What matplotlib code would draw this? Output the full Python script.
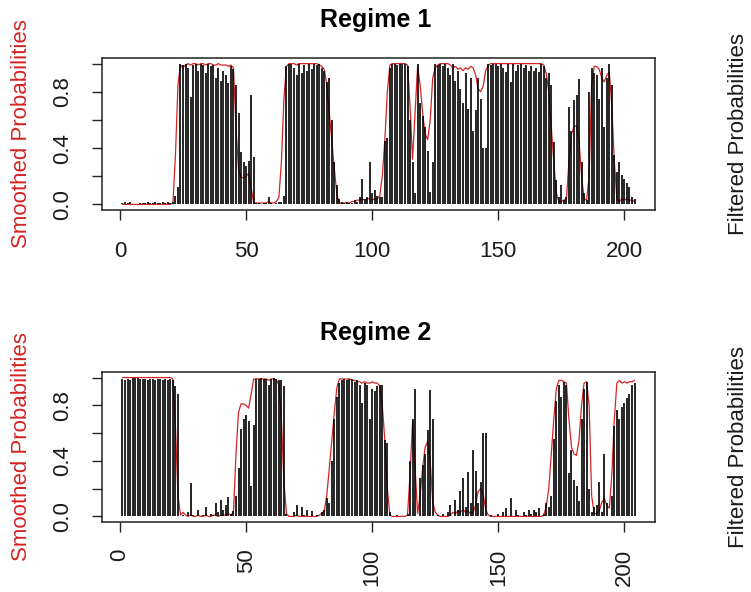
import matplotlib
matplotlib.use("Agg")
import matplotlib.pyplot as plt
import numpy as np

plt.rcParams['font.family'] = ['Liberation Sans', 'DejaVu Sans']

# time index
t = list(range(1, 205))

# Regime 1 filtered probabilities (bars)
filtered_r1 = [
    0.01, 0.02, 0.01, 0.02, 0.00, 0.00, 0.00, 0.01, 0.01, 0.01,
    0.02, 0.01, 0.01, 0.02, 0.01, 0.01, 0.02, 0.01, 0.02, 0.01, 0.02,
    0.06, 0.12,
    1.00, 0.99, 1.00, 0.97, 0.76, 0.99, 1.00, 0.95, 1.00, 0.99,
    0.93, 1.00, 0.98, 0.99, 0.90, 0.97, 0.88, 0.95, 0.92, 0.86, 0.98, 0.96,
    0.85, 0.65, 0.37, 0.30, 0.27, 0.31, 0.78, 0.34,
    0.01, 0.01, 0.00, 0.01, 0.01, 0.05, 0.01, 0.00, 0.01, 0.02,
    0.02, 0.06,
    0.98, 1.00, 1.00, 0.97, 0.92, 1.00, 0.93, 0.99, 0.95, 1.00, 0.96, 1.00, 0.99, 1.00, 0.97,
    0.95, 0.87, 0.90, 0.60, 0.30, 0.14, 0.04,
    0.02, 0.01, 0.02, 0.01, 0.01, 0.03, 0.02, 0.05, 0.18, 0.04, 0.05, 0.30, 0.08, 0.10, 0.06, 0.05,
    0.05, 0.45, 0.47, 0.97,
    1.00, 1.00, 0.99, 1.00, 1.00, 1.00, 0.98,
    0.60, 0.30, 0.08, 1.00, 0.72, 0.63, 0.55, 0.38, 0.09, 0.30,
    1.00, 0.99, 1.00, 0.98, 1.00, 0.97, 0.92, 1.00, 0.88, 0.95, 0.82, 0.72, 0.93, 0.68, 0.90,
    0.52, 0.67, 0.90, 0.75, 0.40, 0.40,
    1.00, 0.99, 1.00, 1.00, 0.98, 1.00, 0.97, 0.94, 1.00, 0.87, 1.00, 0.95, 0.99, 1.00, 0.97,
    0.99, 0.95, 0.98, 0.95, 0.97, 0.94, 1.00, 0.98, 0.90,
    0.93, 0.85, 0.44, 0.17, 0.05, 0.14, 0.03, 0.05, 0.69, 0.52, 0.74, 0.78, 0.89, 0.30, 0.08, 0.03,
    0.80, 0.97, 0.93, 0.92, 0.75, 0.97, 0.55, 0.90, 1.00, 0.85, 0.35, 0.23, 0.30, 0.21, 0.18,
    0.15, 0.12, 0.05, 0.04,
]

# Regime 1 smoothed probabilities (red line)
smoothed_r1 = [
    0.00, 0.00, 0.00, 0.00, 0.00, 0.00, 0.00, 0.00, 0.00, 0.00, 0.00, 0.00, 0.00, 0.00, 0.00,
    0.00, 0.00, 0.00, 0.00, 0.00, 0.01,
    0.35, 0.85,
    0.99, 0.97, 0.99, 1.00, 0.99, 1.00, 1.00, 0.99, 1.00, 1.00, 0.99, 1.00, 1.00, 0.99, 0.99,
    1.00, 0.99, 0.99, 0.99, 0.98, 0.99, 0.97,
    0.55, 0.25, 0.19, 0.19, 0.20, 0.22, 0.12, 0.01,
    0.01, 0.01, 0.01, 0.01, 0.01, 0.02, 0.01, 0.01, 0.02,
    0.05, 0.30, 0.75,
    0.98, 1.00, 1.00, 1.00, 0.99, 1.00, 1.00, 1.00, 1.00, 1.00, 1.00, 1.00, 1.00, 0.99, 0.98,
    0.96, 0.85, 0.65, 0.45, 0.25, 0.07,
    0.01, 0.01, 0.01, 0.01, 0.01, 0.02, 0.02, 0.03, 0.03, 0.04, 0.03, 0.04, 0.04, 0.03, 0.04, 0.04,
    0.06, 0.20, 0.45, 0.80, 0.99,
    1.00, 1.00, 1.00, 1.00, 1.00, 1.00, 0.99,
    0.70, 0.32, 0.65, 0.98, 0.85, 0.65, 0.50, 0.46, 0.60, 0.90,
    0.97, 0.99, 1.00, 1.00, 1.00, 1.00, 0.99, 0.97, 0.98, 0.96, 0.97, 0.95, 0.97, 0.96, 0.98,
    0.97, 0.92, 0.82, 0.80, 0.84, 0.95,
    0.99, 1.00, 1.00, 1.00, 1.00, 1.00, 1.00, 1.00, 1.00, 1.00, 1.00, 1.00, 1.00, 1.00, 1.00,
    1.00, 1.00, 1.00, 1.00, 1.00, 1.00, 1.00, 0.99, 0.93,
    0.80, 0.55, 0.30, 0.08, 0.02, 0.02, 0.03, 0.04, 0.30, 0.50, 0.55, 0.56, 0.45, 0.20, 0.04, 0.03,
    0.20, 0.85, 0.98, 0.98, 0.96, 0.90, 0.87, 0.92, 0.94, 0.70, 0.30, 0.04, 0.02, 0.04, 0.03,
    0.04, 0.03, 0.03, 0.02,
]

# Regime 2 filtered probabilities (bars)
filtered_r2 = [
    0.99, 0.98, 0.99, 0.98, 1.00, 1.00, 1.00, 0.99, 0.99, 0.99,
    0.98, 0.99, 0.99, 0.98, 0.99, 0.99, 0.98, 0.99, 0.98, 0.99, 0.98,
    0.94, 0.88,
    0.00, 0.01, 0.00, 0.03, 0.24, 0.01, 0.00, 0.05, 0.00, 0.01,
    0.07, 0.00, 0.02, 0.01, 0.10, 0.03, 0.12, 0.05, 0.08, 0.14, 0.02, 0.04,
    0.15, 0.35, 0.63, 0.70, 0.73, 0.69, 0.22, 0.66,
    0.99, 0.99, 1.00, 0.99, 0.99, 0.95, 0.99, 1.00, 0.99, 0.98,
    0.98, 0.94,
    0.02, 0.00, 0.00, 0.03, 0.08, 0.00, 0.07, 0.01, 0.05, 0.00, 0.04, 0.00, 0.01, 0.00, 0.03,
    0.05, 0.13, 0.10, 0.40, 0.70, 0.86, 0.96,
    0.98, 0.99, 0.98, 0.99, 0.99, 0.97, 0.98, 0.95, 0.82, 0.96, 0.95, 0.70, 0.92, 0.90, 0.94, 0.95,
    0.95, 0.55, 0.53, 0.03,
    0.00, 0.00, 0.01, 0.00, 0.00, 0.00, 0.02,
    0.40, 0.70, 0.92, 0.00, 0.28, 0.37, 0.45, 0.62, 0.91, 0.70,
    0.00, 0.01, 0.00, 0.02, 0.00, 0.03, 0.08, 0.00, 0.12, 0.05, 0.18, 0.28, 0.07, 0.32, 0.10,
    0.48, 0.33, 0.10, 0.25, 0.60, 0.60,
    0.00, 0.01, 0.00, 0.00, 0.02, 0.00, 0.03, 0.06, 0.00, 0.13, 0.00, 0.05, 0.01, 0.00, 0.03,
    0.01, 0.05, 0.02, 0.05, 0.03, 0.06, 0.00, 0.02, 0.10,
    0.07, 0.15, 0.56, 0.83, 0.95, 0.86, 0.97, 0.95, 0.31, 0.48, 0.26, 0.22, 0.11, 0.70, 0.92, 0.97,
    0.20, 0.03, 0.07, 0.08, 0.25, 0.03, 0.45, 0.10, 0.00, 0.15, 0.65, 0.77, 0.70, 0.79, 0.82,
    0.85, 0.88, 0.95, 0.96,
]

# Regime 2 smoothed probabilities (red line)
smoothed_r2 = [
    1.00, 1.00, 1.00, 1.00, 1.00, 1.00, 1.00, 1.00, 1.00, 1.00, 1.00, 1.00, 1.00, 1.00, 1.00,
    1.00, 1.00, 1.00, 1.00, 1.00, 0.99,
    0.65, 0.15,
    0.01, 0.03, 0.01, 0.00, 0.01, 0.00, 0.00, 0.01, 0.00, 0.00, 0.01, 0.00, 0.00, 0.01, 0.01,
    0.00, 0.01, 0.01, 0.01, 0.02, 0.01, 0.03,
    0.45, 0.75, 0.81, 0.81, 0.80, 0.78, 0.88, 0.99,
    0.99, 0.99, 0.99, 0.99, 0.99, 0.98, 0.99, 0.99, 0.98,
    0.95, 0.70, 0.25,
    0.02, 0.00, 0.00, 0.00, 0.01, 0.00, 0.00, 0.00, 0.00, 0.00, 0.00, 0.00, 0.00, 0.01, 0.02,
    0.04, 0.15, 0.35, 0.55, 0.75, 0.93,
    0.99, 0.99, 0.99, 0.99, 0.99, 0.98, 0.98, 0.97, 0.97, 0.96, 0.97, 0.96, 0.96, 0.97, 0.96, 0.96,
    0.94, 0.80, 0.55, 0.20, 0.01,
    0.00, 0.00, 0.00, 0.00, 0.00, 0.00, 0.01,
    0.30, 0.68, 0.35, 0.02, 0.15, 0.35, 0.50, 0.54, 0.40, 0.10,
    0.03, 0.01, 0.00, 0.00, 0.00, 0.00, 0.01, 0.03, 0.02, 0.04, 0.03, 0.05, 0.03, 0.04, 0.02,
    0.03, 0.08, 0.18, 0.20, 0.16, 0.05,
    0.01, 0.00, 0.00, 0.00, 0.00, 0.00, 0.00, 0.00, 0.00, 0.00, 0.00, 0.00, 0.00, 0.00, 0.00,
    0.00, 0.00, 0.00, 0.00, 0.00, 0.00, 0.00, 0.01, 0.07,
    0.20, 0.45, 0.70, 0.92, 0.98, 0.98, 0.97, 0.96, 0.70, 0.50, 0.45, 0.44, 0.55, 0.80, 0.96, 0.97,
    0.80, 0.15, 0.02, 0.02, 0.04, 0.10, 0.13, 0.08, 0.06, 0.30, 0.70, 0.96, 0.98, 0.96, 0.97,
    0.96, 0.97, 0.97, 0.98,
]

titles = ["Regime 1", "Regime 2"]
x_ticks = [0, 50, 100, 150, 200]
y_ticks = [0.0, 0.2, 0.4, 0.6, 0.8, 1.0]
y_ticklabels = ["0.0", "", "0.4", "", "0.8", ""]

W, H = 751, 592
fig = plt.figure(figsize=(W / 100, H / 100), dpi=100)

def fx(px):
    return px / W

def fy(py):
    return 1 - py / H

TXT = "#1a1a1a"
RED = "#d42424"
FS = 16

panels = [
    dict(top=58, bottom=210, title_y=20, rot=0, filt=filtered_r1, smo=smoothed_r1, title=titles[0]),
    dict(top=372, bottom=522, title_y=333, rot=90, filt=filtered_r2, smo=smoothed_r2, title=titles[1]),
]
left, right = 102, 655

for p in panels:
    ax = fig.add_axes([fx(left), fy(p["bottom"]), (right - left) / W, (p["bottom"] - p["top"]) / H])
    ax.plot(t, p["smo"], color=RED, linewidth=0.9, zorder=2)
    ax.vlines(t, 0, p["filt"], colors="black", linewidth=1.2, zorder=3)
    n0, n1 = t[0], t[-1]
    ext = 0.04 * (n1 - n0)
    ax.set_xlim(n0 - ext, n1 + ext)
    ax.set_ylim(-0.04, 1.04)
    ax.set_xticks(x_ticks)
    ax.set_yticks(y_ticks)
    ax.set_yticklabels(y_ticklabels, rotation=90, va="center")
    if p["rot"]:
        ax.set_xticklabels([str(v) for v in x_ticks], rotation=90, va="top")
        ax.tick_params(axis="x", pad=12)
    else:
        ax.set_xticklabels([str(v) for v in x_ticks])
        ax.tick_params(axis="x", pad=15)
    ax.tick_params(axis="y", pad=14)
    ax.tick_params(length=7, width=1.0, color="#222222", labelsize=FS, labelcolor=TXT)
    for s in ax.spines.values():
        s.set_linewidth(1.1)
        s.set_color("#222222")
    fig.text(fx(376), fy(p["title_y"]), p["title"], ha="center", va="center",
             fontsize=18, fontweight="bold", color="black")
    mid = (p["top"] + p["bottom"]) / 2
    fig.text(fx(22), fy(mid), "Smoothed Probabilities", rotation=90, ha="center", va="center",
             fontsize=FS, color=RED)
    fig.text(fx(738), fy(mid), "Filtered Probabilities", rotation=90, ha="center", va="center",
             fontsize=FS, color=TXT)

fig.savefig("out.png", dpi=100)
